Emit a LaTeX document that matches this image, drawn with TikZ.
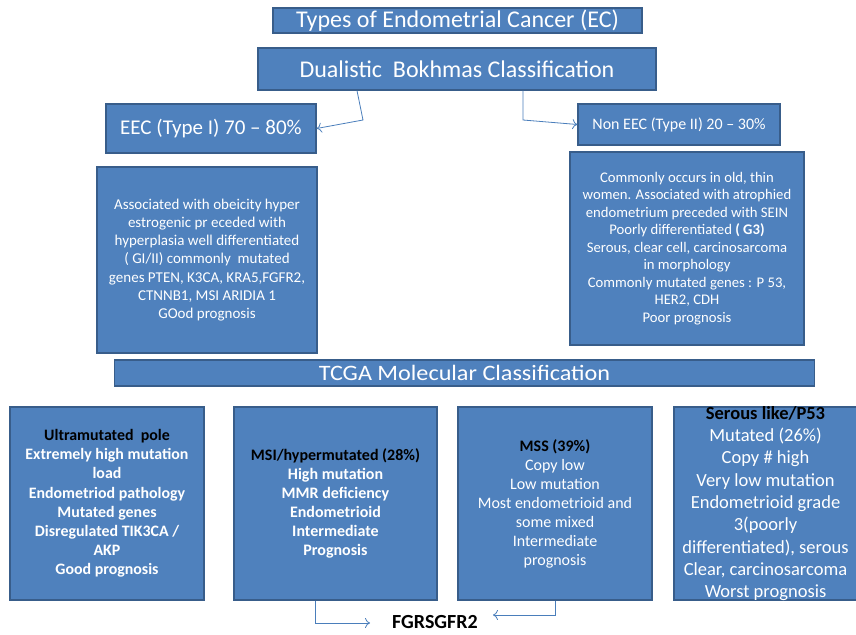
\documentclass[tikz,border=0pt]{standalone}
\usepackage{fontspec}
\setmainfont{Carlito}
\usetikzlibrary{arrows.meta}
\definecolor{boxblue}{HTML}{4F81BD}
\definecolor{boxline}{HTML}{385D8A}
\definecolor{linkblue}{HTML}{4A7EBB}

\begin{document}
\begin{tikzpicture}[x=1pt,y=-1pt,
  bluebox/.style={draw=boxline, fill=boxblue, line width=1.3pt, text=white, align=center, inner sep=1pt},
  link/.style={linkblue, line width=0.8pt, -{To[length=5pt,width=10pt]}}]
\useasboundingbox (0,0) rectangle (856,634);

% Headings
\node[bluebox, minimum width=369pt, minimum height=25pt, font=\fontsize{24}{26}\selectfont] (title) at (457.5,20.5) {Types of Endometrial Cancer (EC)};
\node[bluebox, minimum width=398pt, minimum height=42pt, font=\fontsize{24}{26}\selectfont] (dual) at (457,69) {Dualistic\ \ Bokhmas Classification};

% Dualistic types
\node[bluebox, minimum width=210pt, minimum height=49pt, font=\fontsize{21}{24}\selectfont] (eec) at (211,128.5) {EEC (Type I) 70 -- 80\%};
\node[bluebox, minimum width=202pt, minimum height=41pt, font=\fontsize{16}{20}\selectfont] (noneec) at (679,124.5) {Non EEC (Type II) 20 -- 30\%};

\node[bluebox, minimum width=220pt, minimum height=186pt, font=\fontsize{15}{18.3}\selectfont] (eecinfo) at (207,260) {Associated with obeicity hyper\\ estrogenic pr eceded with\\ hyperplasia well differentiated\\ ( GI/II) commonly\ \ mutated\\ genes PTEN, K3CA, KRA5,FGFR2,\\ CTNNB1, MSI ARIDIA 1\\ GOod prognosis};
\node[bluebox, minimum width=234pt, minimum height=193pt, font=\fontsize{14.7}{17.5}\selectfont] (noninfo) at (687,248.5) {Commonly occurs in old, thin\\ women. Associated with atrophied\\ endometrium preceded with SEIN\\ Poorly differentiated \textbf{( G3)}\\ Serous, clear cell, carcinosarcoma\\ in morphology\\ Commonly mutated genes : P 53,\\ HER2, CDH\\ Poor prognosis};

% Draw arrows to the two types
\coordinate (bendl) at (363,120);
\coordinate (bendr) at (523,120);
\draw[link] ([xshift=-100pt]dual.south) -- (bendl) -- (eec.east);
\draw[link] ([xshift=66pt]dual.south) -- (bendr) -- (noneec.west);

% TCGA
\node[bluebox, minimum width=700pt, minimum height=26pt, font=\fontsize{22}{24}\selectfont] (tcga) at (464.5,373) {\scalebox{1.1}[1]{TCGA Molecular Classification}};

\node[bluebox, minimum width=194pt, minimum height=193pt, font=\bfseries\fontsize{15.9}{19.2}\selectfont] (pole) at (107,503.5) {{\color{black}Ultramutated\ \ pole}\\ Extremely high mutation\\ load\\ Endometriod pathology\\ Mutated genes\\ Disregulated TIK3CA /\\ AKP\\ Good prognosis};
\node[bluebox, minimum width=203pt, minimum height=193pt, font=\bfseries\fontsize{16}{19}\selectfont] (msi) at (335.5,503.5) {{\color{black}MSI/hypermutated (28\%)}\\ High mutation\\ MMR deficiency\\ Endometrioid\\ Intermediate\\ Prognosis};
\node[bluebox, minimum width=194pt, minimum height=193pt, font=\fontsize{16}{19}\selectfont] (mss) at (555,503.5) {{\color{black}\bfseries MSS (39\%)}\\ Copy low\\ Low mutation\\ Most endometrioid and\\ some mixed\\ Intermediate\\ prognosis};
\node[bluebox, minimum width=183pt, minimum height=193pt] (p53) at (765.5,503.5) {};
\node[text=white, align=center, inner sep=0pt, font=\fontsize{18.5}{22.3}\selectfont] (p53txt) at (p53.center) {{\color{black}\bfseries Serous like/P53}\\ Mutated (26\%)\\ Copy \# high\\ Very low mutation\\ Endometrioid grade\\ 3(poorly\\ differentiated), serous\\ Clear, carcinosarcoma\\ Worst prognosis};

% FGFR2 label and arrows
\node[font=\bfseries\fontsize{20}{24}\selectfont, inner sep=0pt] (fgr) at (435,622) {FGRSGFR2};
\coordinate (bendm) at (315,623);
\coordinate (endm) at (370,623);
\coordinate (bends) at (555,615);
\coordinate (ends) at (493,615);
\draw[link] ([xshift=-20.5pt]msi.south) -- (bendm) -- (endm);
\draw[link] (mss.south) -- (bends) -- (ends);

\end{tikzpicture}
\end{document}
